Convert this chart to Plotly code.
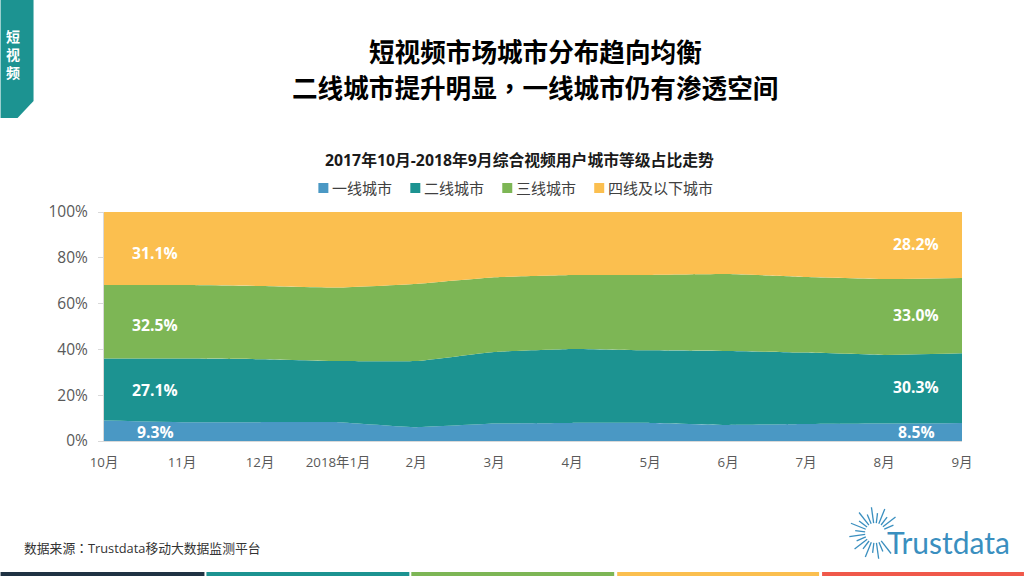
import math
import plotly.graph_objects as go

W, H = 1024, 576
L, R, T, B = 103.5, 62, 212, 135  # plot area margins in pixels

months = ["10月", "11月", "12月", "2018年1月", "2月", "3月", "4月", "5月", "6月", "7月", "8月", "9月"]

tier1 = [8.9, 8.2, 8.2, 8.2, 6.0, 7.6, 7.9, 7.9, 7.0, 7.4, 7.6, 7.9]
tier2 = [27.1, 27.8, 27.5, 26.7, 28.9, 31.3, 32.3, 31.7, 32.3, 31.2, 30.0, 30.4]
tier3 = [32.1, 32.1, 32.0, 32.1, 33.7, 32.6, 32.3, 32.9, 33.6, 33.0, 33.1, 32.9]
tier4 = [31.9, 31.9, 32.3, 33.0, 31.4, 28.5, 27.5, 27.5, 27.1, 28.4, 29.3, 28.8]

series_names = ["一线城市", "二线城市", "三线城市", "四线及以下城市"]
series_colors = ["#4a98c4", "#1c9391", "#7db655", "#fbbf4f"]
legend_x = [318, 410, 502, 594]

left_labels = ["9.3%", "27.1%", "32.5%", "31.1%"]
left_label_y = [432, 390, 325, 253]
right_labels = ["8.5%", "30.3%", "33.0%", "28.2%"]
right_label_y = [432, 387, 315, 244]

stripe_colors = ["#1f3243", "#1c9391", "#7db655", "#fbbf4f", "#f0584a"]
stripe_edges = [(0, 204), (206, 409), (411, 614), (617, 819), (822, 1024)]

FONT = "Open Sans, Noto Sans CJK SC, sans-serif"
LOGO = "#3a8fbf"
CENTERED = '<span style="font-family:Noto Sans CJK TC">%s</span>'


def fx(x):
    return (x - L) / (W - L - R)


def fy(y):
    return 1 - (y - T) / (H - T - B)


def text(x, y, s, size, color="#000000", bold=False, align="center", family=FONT):
    return dict(
        x=fx(x), y=fy(y), xref="paper", yref="paper", text=f"<b>{s}</b>" if bold else s,
        showarrow=False, xanchor=align, yanchor="middle", align=align,
        font=dict(size=size, color=color, family=family),
    )


fig = go.Figure()
for name, vals, color in zip(series_names, [tier1, tier2, tier3, tier4], series_colors):
    fig.add_trace(go.Scatter(
        x=months, y=vals, name=name, stackgroup="one", mode="lines",
        line=dict(width=0, color=color, shape="spline", smoothing=0.3),
        fillcolor=color, hoverinfo="skip",
    ))

notes = [
    text(535, 52, "短视频市场城市分布趋向均衡", 25.6, bold=True),
    text(535, 87, "二线城市提升明显" + CENTERED % "，" + "一线城市仍有渗透空间", 25.6, bold=True),
    text(519, 160, "2017年10月-2018年9月综合视频用户城市等级占比走势", 15.8, "#1a1a1a", bold=True),
    text(21, 547.5, "数据来源" + CENTERED % "：" + "Trustdata移动大数据监测平台", 12.8, "#333333", align="left"),
    text(12, 55, "短<br>视<br>频", 14, "#ffffff", bold=True),
    text(948.5, 542, "Trustdata", 30, LOGO, family="Lato, sans-serif"),
]
for s, y in zip(left_labels, left_label_y):
    notes.append(text(155, y, s, 15.7, "#ffffff", bold=True))
for s, y in zip(right_labels, right_label_y):
    notes.append(text(916, y, s, 15.7, "#ffffff", bold=True))

shapes = [dict(
    type="path", xref="paper", yref="paper", line_width=0, fillcolor="#1c9391",
    path=f"M {fx(0)} {fy(0)} L {fx(33)} {fy(0)} L {fx(33)} {fy(101)} L {fx(17)} {fy(118)} L {fx(0)} {fy(118)} Z",
)]
for (x0, x1), color in zip(stripe_edges, stripe_colors):
    shapes.append(dict(type="rect", xref="paper", yref="paper", line_width=0, fillcolor=color,
                       x0=fx(x0), x1=fx(x1), y0=fy(572), y1=fy(576)))

# legend is drawn by hand, the built-in one can't get the tight square swatches
for x, name, color in zip(legend_x, series_names, series_colors):
    shapes.append(dict(type="rect", xref="paper", yref="paper", line_width=0, fillcolor=color,
                       x0=fx(x), x1=fx(x + 10), y0=fy(183), y1=fy(193)))
    notes.append(text(x + 12, 188, name, 15, "#404040", align="left"))

# logo sunburst, open towards the wordmark
for i in range(24):
    deg = i * 15 + 7
    if deg < 50 or deg > 340:
        continue
    a = math.radians(deg)
    r1 = 26 if i % 2 else 20
    shapes.append(dict(
        type="line", xref="paper", yref="paper", line=dict(color=LOGO, width=1.3),
        x0=fx(875 + 10 * math.cos(a)), y0=fy(533 + 10 * math.sin(a)),
        x1=fx(875 + r1 * math.cos(a)), y1=fy(533 + r1 * math.sin(a)),
    ))

fig.update_layout(
    width=W, height=H, margin=dict(l=L, r=R, t=T, b=B, autoexpand=False),
    paper_bgcolor="#ffffff", plot_bgcolor="#ffffff", font=dict(family=FONT, color="#595959"),
    showlegend=False,
    annotations=notes, shapes=shapes,
    xaxis=dict(type="category", range=[0, 11], showgrid=False, ticks="", showline=True,
               linecolor="#d9d9d9", tickfont=dict(size=13.3, color="#595959"), ticklabelstandoff=9),
    yaxis=dict(range=[0, 100], tickvals=[0, 20, 40, 60, 80, 100], ticktext=["0%", "20%", "40%", "60%", "80%", "100%"],
               showgrid=False, ticks="outside", ticklen=5, tickcolor="#d9d9d9", showline=True,
               linecolor="#d9d9d9", tickfont=dict(size=15.5, color="#595959"), ticklabelstandoff=7),
)

fig.write_html("out.html", post_script="document.body.style.margin = '0';", config={"displayModeBar": False})
